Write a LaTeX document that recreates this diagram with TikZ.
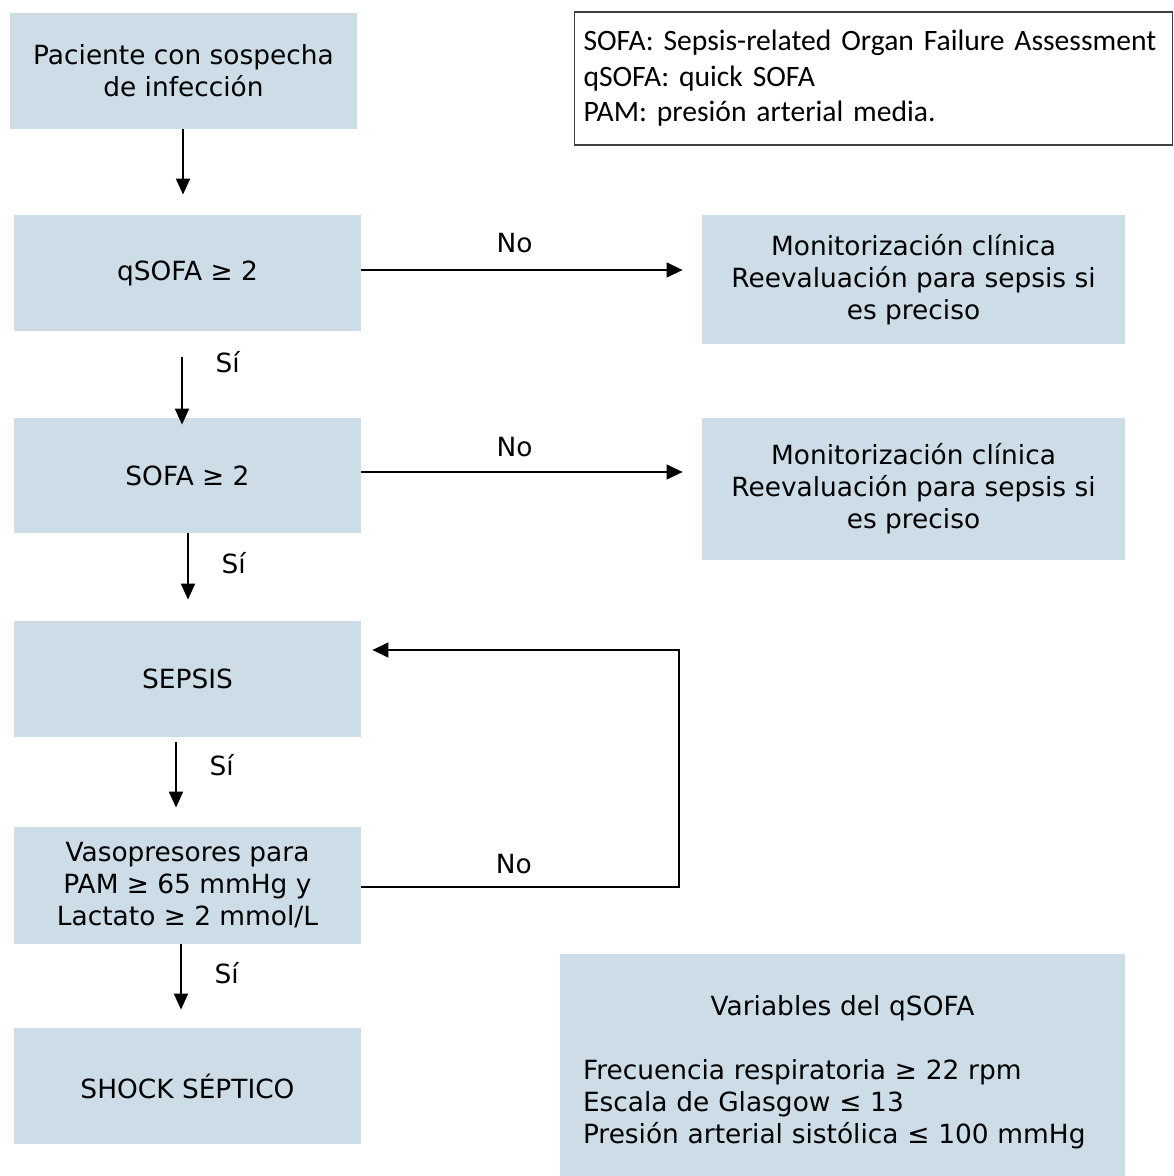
\documentclass[tikz,border=0pt]{standalone}
\usepackage{fontspec}
\setmainfont{DejaVu Sans}
\newfontfamily\legendfont{Carlito}
\usetikzlibrary{arrows.meta}
\definecolor{boxblue}{RGB}{204,221,232}

\begin{document}
\begin{tikzpicture}[x=0.5pt, y=-0.5pt,
        box/.style={fill=boxblue, minimum width=173.5pt, minimum height=58pt, align=center, inner sep=2pt, font=\fontsize{13.2}{16}\selectfont},
        sidebox/.style={box, minimum width=211.5pt},
        vline/.style={-{Triangle[length=8pt, width=7pt]}, line width=1pt},
        hline/.style={-{Triangle[length=8pt, width=7.5pt]}, line width=0.65pt},
        lbl/.style={font=\fontsize{13.2}{16}\selectfont}]
        \useasboundingbox (0,0) rectangle (1173,1176);
        \clip (0,0) rectangle (1173,1176);

        % Define nodes
        \node (paciente) [box] at (183.5,71) {Paciente con sospecha\\de infección};
        \node (qsofa) [box] at (187.5,273) {qSOFA ≥ 2};
        \node (sofa) [box, minimum height=57.5pt] at (187.5,475.5) {SOFA ≥ 2};
        \node (sepsis) [box] at (187.5,679) {SEPSIS};
        \node (vaso) [box, minimum height=58.5pt] at (187.5,885.5) {Vasopresores para\\PAM ≥ 65 mmHg y\\Lactato ≥ 2 mmol/L};
        \node (shock) [box] at (187.5,1086) {SHOCK SÉPTICO};
        \node (monitA) [sidebox, minimum height=64.5pt] at (913.5,279.5) {Monitorización clínica\\Reevaluación para sepsis si\\es preciso};
        \node (monitB) [sidebox, minimum height=71pt] at (913.5,489) {Monitorización clínica\\Reevaluación para sepsis si\\es preciso};
        \node (legend) [draw=black!75, line width=0.6pt, minimum width=299pt, minimum height=66.5pt, inner xsep=4.5pt, text width=290pt, align=left, font=\legendfont\fontsize{14.8}{17.75}\selectfont] at (873.5,78.5) {SOFA: Sepsis-related Organ Failure Assessment\\qSOFA: quick SOFA\\PAM: presión arterial media.};
        \node (variables) [fill=boxblue, minimum width=282.5pt, minimum height=118pt, inner xsep=11.5pt, text width=259.5pt, align=left, font=\fontsize{13.2}{16}\selectfont] at (842.5,1072) {\makebox[\linewidth]{Variables del qSOFA}\\[16pt]Frecuencia respiratoria ≥ 22 rpm\\Escala de Glasgow ≤ 13\\Presión arterial sistólica ≤ 100 mmHg};
        \coordinate (turn) at (679,650);

        % Draw arrows
        \draw[vline, shorten >=10pt] ([xshift=-0.25pt]paciente.south) -- ([xshift=-0.25pt]paciente.south |- qsofa.north);
        \draw[vline, shorten <=13pt, shorten >=-3.5pt] ([xshift=-2.75pt]qsofa.south) -- ([xshift=-2.75pt]sofa.north) node[pos=0.36, right=13pt, lbl] {Sí};
        \draw[vline, shorten >=10.5pt] ([xshift=0.25pt]sofa.south) -- ([xshift=0.25pt]sepsis.north) node[pos=0.34, right=13pt, lbl] {Sí};
        \draw[vline, shorten <=2.5pt, shorten >=9.5pt] ([xshift=-5.75pt]sepsis.south) -- ([xshift=-5.75pt]vaso.north) node[pos=0.31, right=13pt, lbl] {Sí};
        \draw[vline, shorten >=9pt] ([xshift=-3.25pt]vaso.south) -- ([xshift=-3.25pt]shock.north) node[pos=0.35, right=13pt, lbl] {Sí};
        \draw[hline, shorten >=9.5pt] ([yshift=1.5pt]qsofa.east) -- ([yshift=1.5pt]qsofa.east -| monitA.west) node[pos=0.45, above=5pt, lbl] {No};
        \draw[hline, shorten >=9.5pt] ([yshift=1.75pt]sofa.east) -- ([yshift=1.75pt]sofa.east -| monitB.west) node[pos=0.45, above=4pt, lbl] {No};
        \draw[hline, shorten >=5.5pt] ([yshift=-0.75pt]vaso.east) -| (turn) node[pos=0.24, above=3pt, lbl] {No} -- (turn -| sepsis.east);
    \end{tikzpicture}
\end{document}
